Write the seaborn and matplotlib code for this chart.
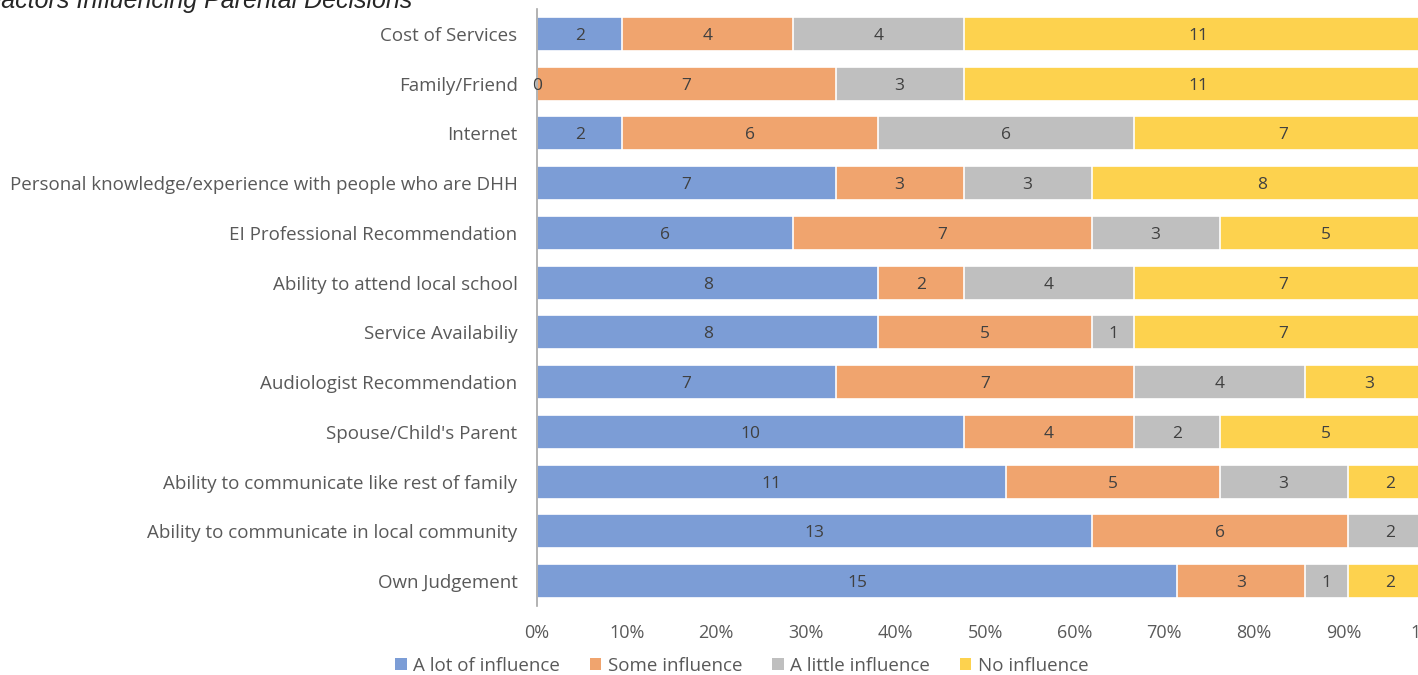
import matplotlib
matplotlib.use("Agg")
import matplotlib.pyplot as plt
import seaborn as sns
import numpy as np
import pandas as pd
from matplotlib.patches import Patch

categories = [
    "Cost of Services",
    "Family/Friend",
    "Internet",
    "Personal knowledge/experience with people who are DHH",
    "EI Professional Recommendation",
    "Ability to attend local school",
    "Service Availabiliy",
    "Audiologist Recommendation",
    "Spouse/Child's Parent",
    "Ability to communicate like rest of family",
    "Ability to communicate in local community",
    "Own Judgement",
]
a_lot = [2, 0, 2, 7, 6, 8, 8, 7, 10, 11, 13, 15]
some = [4, 7, 6, 3, 7, 2, 5, 7, 4, 5, 6, 3]
a_little = [4, 3, 6, 3, 3, 4, 1, 4, 2, 3, 2, 1]
no_inf = [11, 11, 7, 8, 5, 7, 7, 3, 5, 2, 0, 2]
series_names = ["A lot of influence", "Some influence", "A little influence", "No influence"]
x_ticks = [0, 10, 20, 30, 40, 50, 60, 70, 80, 90, 100]
title = "Factors Influencing Parental Decisions"

colors = ["#7C9DD6", "#F0A46E", "#BFBFBF", "#FDD24E"]
text_col = "#595959"

sns.set_theme(style="white")
plt.rcParams["font.family"] = ["Open Sans", "DejaVu Sans"]

vals = np.array([a_lot, some, a_little, no_inf], dtype=float)
totals = vals.sum(axis=0)
pct = vals / totals
cum = np.cumsum(pct, axis=0)

fig = plt.figure(figsize=(14.18, 6.75), dpi=100)
ax = fig.add_axes([537 / 1418, 1 - 606 / 675, 896 / 1418, (606 - 9) / 675])

# layered cumulative bars (draw largest first)
for i in range(3, -1, -1):
    df = pd.DataFrame({"cat": categories, "val": cum[i]})
    sns.barplot(data=df, x="val", y="cat", orient="h", color=colors[i],
                width=0.68, edgecolor="white", linewidth=1.2, ax=ax,
                saturation=1)

# segment labels
for i in range(4):
    left = cum[i] - pct[i]
    for j, cat in enumerate(categories):
        ax.text(left[j] + pct[i][j] / 2, j, f"{int(vals[i][j])}",
                ha="center", va="center_baseline", fontsize=12.5, color="#404040",
                clip_on=False)

ax.set_xlim(0, 1)
ax.set_ylim(len(categories) - 0.5, -0.5)
ax.set_xticks([t / 100 for t in x_ticks])
ax.set_xticklabels([f"{t}%" for t in x_ticks])
ax.set_xlabel("")
ax.set_ylabel("")
ax.tick_params(axis="both", length=0, colors=text_col, labelsize=13.5)
ax.tick_params(axis="x", labelsize=13, pad=13)
ax.tick_params(axis="y", pad=14)
for s in ["top", "right", "bottom"]:
    ax.spines[s].set_visible(False)
ax.spines["left"].set_color("#A6A6A6")
ax.spines["left"].set_linewidth(1.2)
ax.grid(False)

handles = [Patch(facecolor=c, edgecolor="none") for c in colors]
fig.legend(handles, series_names, loc="center", bbox_to_anchor=(742 / 1418, 1 - 666 / 675),
           ncol=4, frameon=False, fontsize=13.5, handlelength=0.6, handleheight=0.6,
           handletextpad=0.35, columnspacing=1.6, labelcolor=text_col)

fig.text(-14 / 1418, 1 - 8 / 675, title, ha="left", va="baseline",
         fontsize=18, fontstyle="italic", family="Liberation Sans", color="#262626")

fig.savefig("out.png", dpi=100)
